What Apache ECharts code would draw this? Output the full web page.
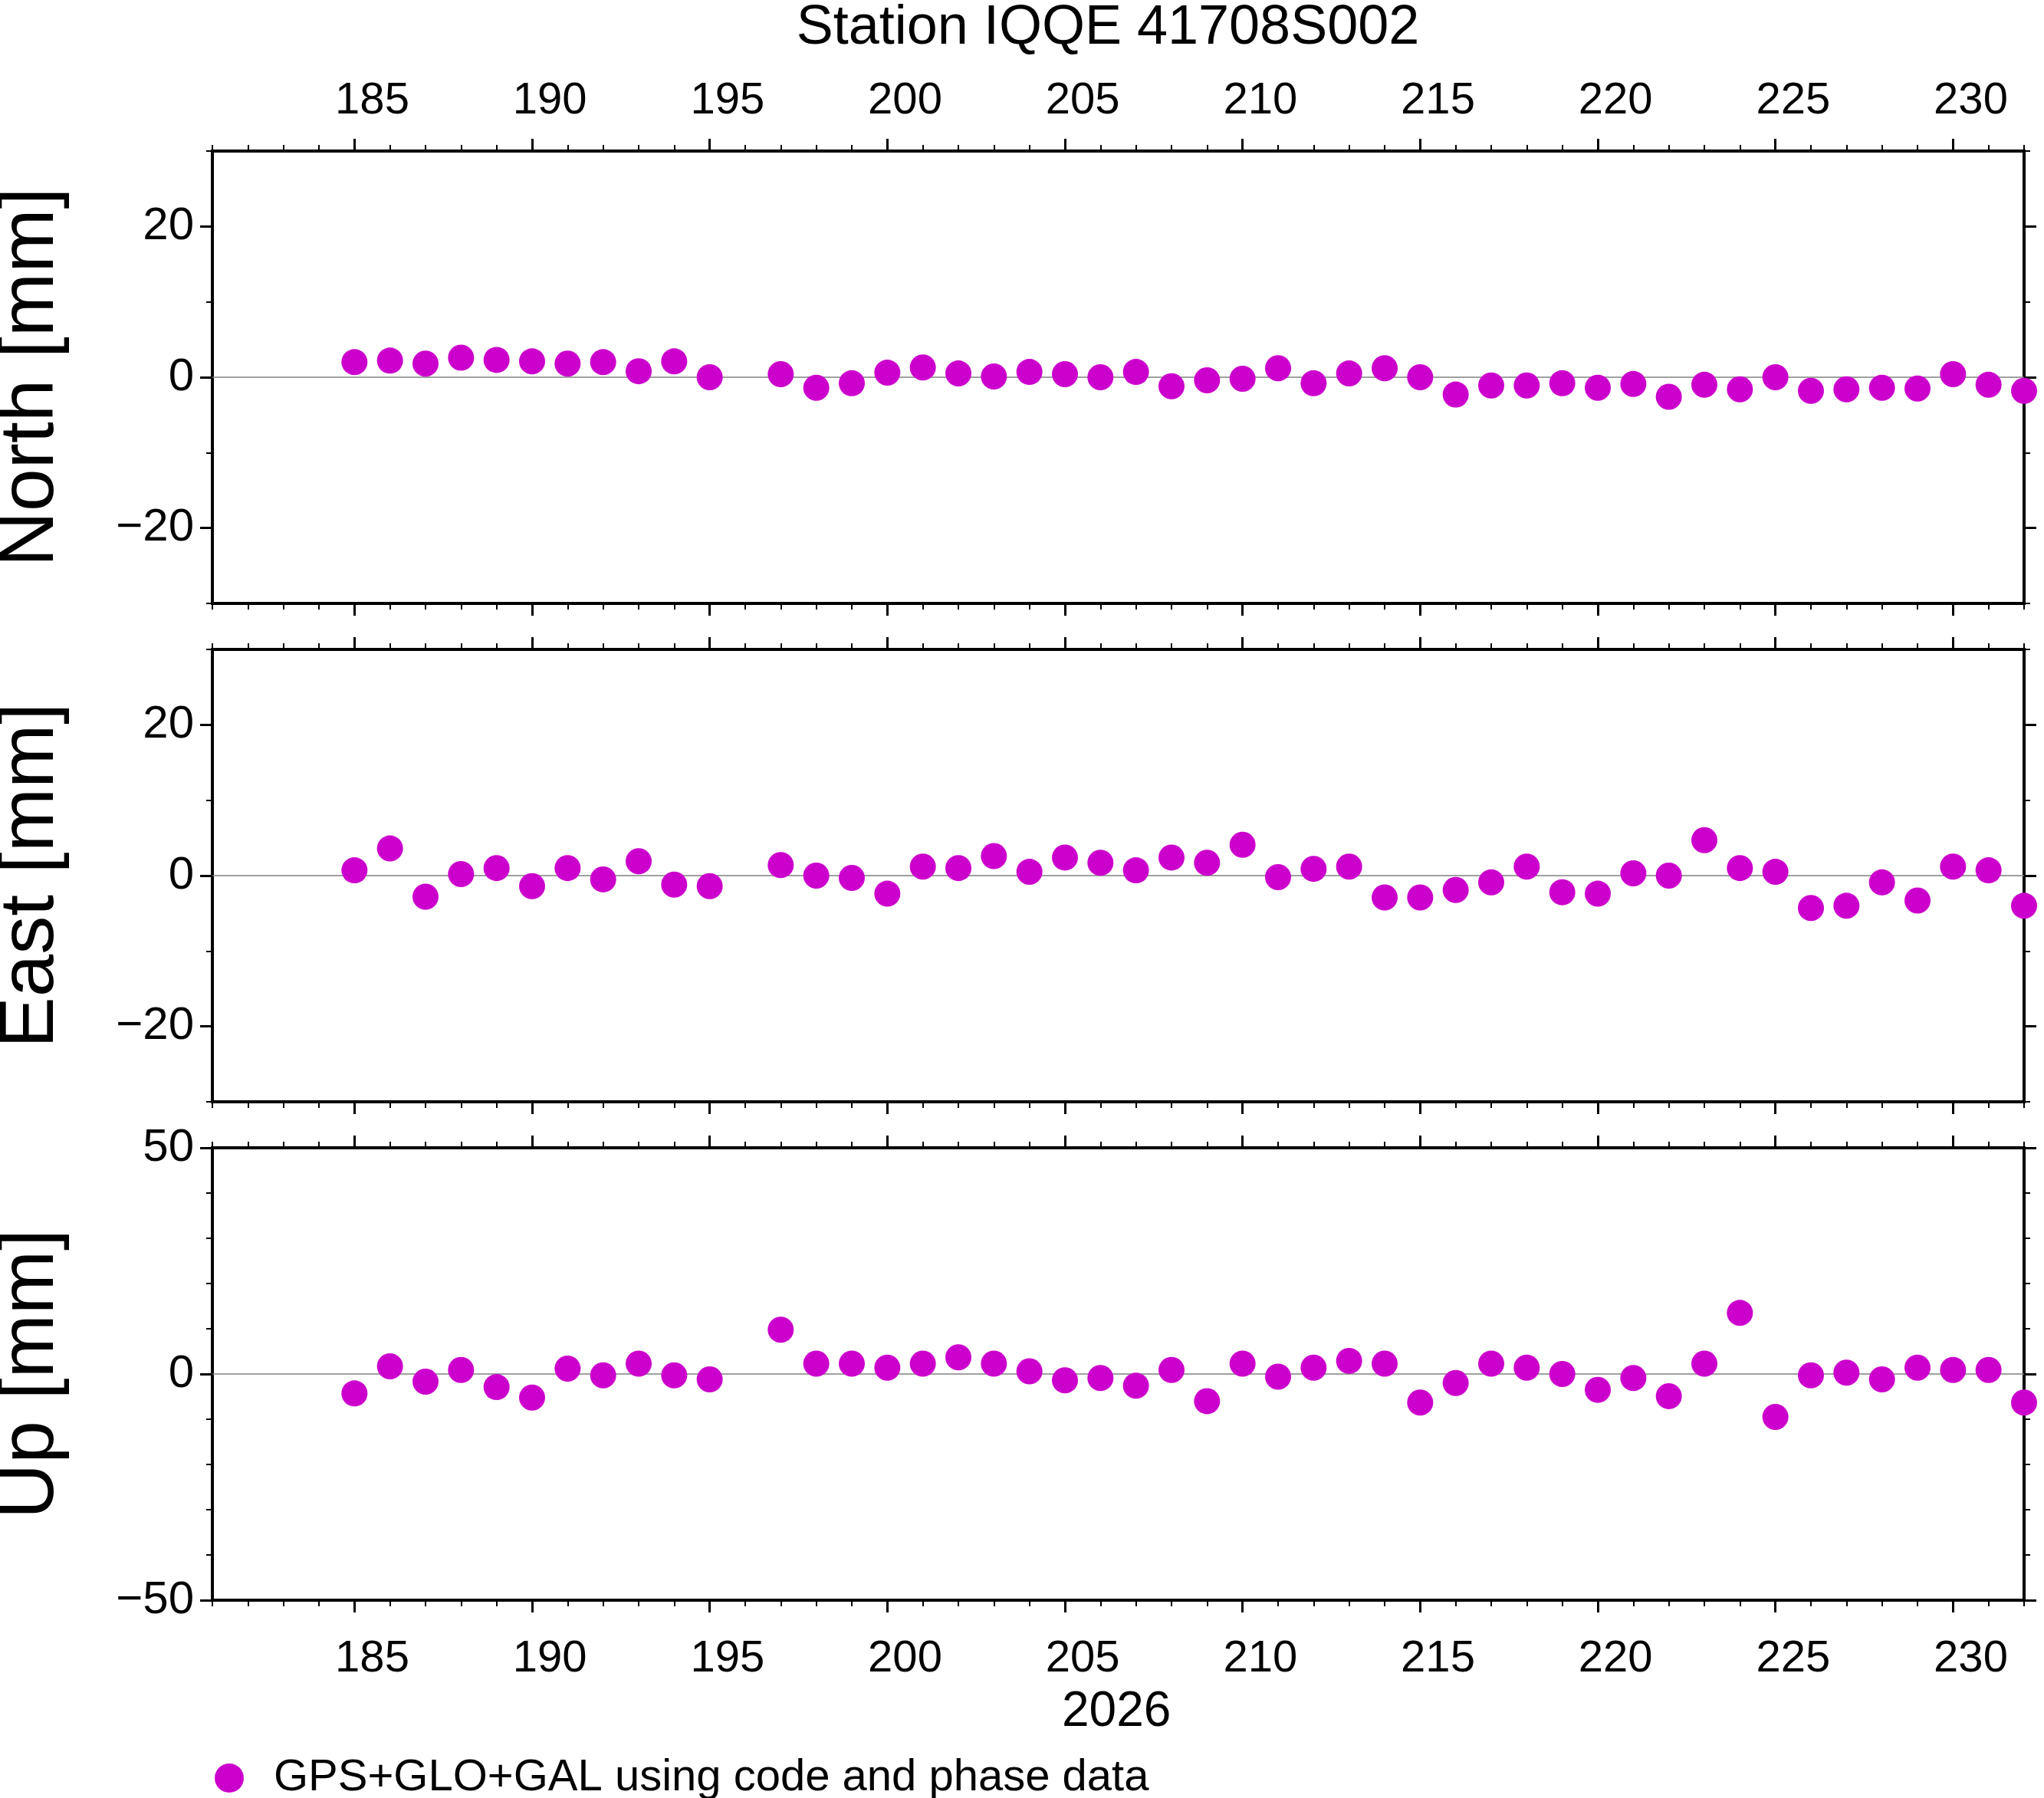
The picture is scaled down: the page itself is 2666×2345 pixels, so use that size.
<!DOCTYPE html>
<html><head><meta charset="utf-8">
<script src="https://cdn.jsdelivr.net/npm/echarts@6/dist/echarts.min.js"></script>
<style>html,body{margin:0;padding:0;background:#fff}#c{width:2666px;height:2345px}</style>
</head><body><div id="c"></div>
<script>
const days = [185,186,187,188,189,190,191,192,193,194,195,197,198,199,200,201,202,203,204,205,206,207,208,209,210,211,212,213,214,215,216,217,218,219,220,221,222,223,224,225,226,227,228,229,230,231,232];
const north = [2,2.2,1.8,2.6,2.3,2.1,1.8,2.0,0.8,2.1,0,0.4,-1.4,-0.8,0.6,1.3,0.5,0.1,0.7,0.4,0,0.7,-1.2,-0.4,-0.2,1.2,-0.8,0.5,1.2,0,-2.3,-1.1,-1.1,-0.8,-1.4,-0.9,-2.6,-1,-1.6,0,-1.8,-1.6,-1.4,-1.5,0.4,-1.0,-1.8];
const east = [0.7,3.6,-2.8,0.2,1,-1.4,1,-0.5,1.9,-1.2,-1.4,1.4,0,-0.3,-2.4,1.2,1,2.6,0.5,2.4,1.7,0.7,2.4,1.7,4.1,-0.2,0.9,1.2,-2.9,-2.9,-1.9,-0.9,1.2,-2.2,-2.4,0.3,0,4.7,1,0.5,-4.3,-4,-0.9,-3.3,1.2,0.7,-4];
const up = [-4.3,1.7,-1.7,0.9,-2.9,-5.2,1.2,-0.3,2.3,-0.3,-1.2,9.8,2.3,2.3,1.4,2.3,3.7,2.3,0.6,-1.4,-0.9,-2.6,0.9,-6,2.3,-0.6,1.4,2.9,2.3,-6.3,-2,2.3,1.4,0,-3.5,-0.9,-4.9,2.3,13.5,-9.5,-0.3,0.3,-1.2,1.4,0.9,0.9,-6.3];
const xMajor = [185,190,195,200,205,210,215,220,225,230];
const xLabelPos = xMajor.map(v=>v+0.5);
const xMinor = []; for (let d=181; d<=232; d++) if (d%5) xMinor.push(d);
const panels = [
  {name:'North [mm]', data:north, min:-30, max:30, major:[-20,0,20], minor:[-30,-10,10,30]},
  {name:'East [mm]', data:east, min:-30, max:30, major:[-20,0,20], minor:[-30,-10,10,30]},
  {name:'Up [mm]', data:up, min:-50, max:50, major:[-50,0,50], minor:[-40,-30,-20,-10,10,20,30,40]}
];
const FONT = 'Liberation Sans';
const tops = [197, 847, 1497];
const grid=[], xAxis=[], yAxis=[], series=[];
const fmt = v => String(Math.round(v*10)/10).replace('-', '\u2212');
panels.forEach((p,i)=>{
  grid.push({left:277, right:26, top:tops[i], height:590, show:true, borderColor:'#000', borderWidth:4, backgroundColor:'transparent', outerBoundsMode:'none', containLabel:false});
  const base = {type:'value', gridIndex:i, min:181, max:232, axisLine:{show:false, onZero:false}, splitLine:{show:false}};
  const xi = xAxis.length;
  ['bottom','top'].forEach(pos=>{
    const showLab = (pos==='bottom' && i===2) || (pos==='top' && i===0);
    xAxis.push(Object.assign({}, base, {position:pos,
      axisTick:{show:true, length:16, lineStyle:{color:'#000', width:3}, customValues:xMajor},
      axisLabel:{show:showLab, customValues:xLabelPos, formatter:v=>String(Math.floor(v)), fontFamily:FONT, fontSize:58, color:'#000', margin:pos==='top'?36:48}}));
    xAxis.push(Object.assign({}, base, {position:pos,
      axisTick:{show:true, length:8, lineStyle:{color:'#000', width:2}, customValues:xMinor},
      axisLabel:{show:false}}));
  });
  const ybase = {type:'value', gridIndex:i, min:p.min, max:p.max, axisLine:{show:false, onZero:false}, splitLine:{show:false}};
  const yi = yAxis.length;
  ['left','right'].forEach(pos=>{
    yAxis.push(Object.assign({}, ybase, {position:pos,
      name: pos==='left'?p.name:'', nameLocation:'middle', nameGap:186,
      nameTextStyle:{fontFamily:FONT, fontSize:100, color:'#000'},
      axisTick:{show:true, length:16, lineStyle:{color:'#000', width:3}, customValues:p.major},
      axisLabel:{show:pos==='left', customValues:p.major, formatter:fmt, fontFamily:FONT, fontSize:60, color:'#000', margin:24}}));
    yAxis.push(Object.assign({}, ybase, {position:pos,
      axisTick:{show:true, length:8, lineStyle:{color:'#000', width:2}, customValues:p.minor},
      axisLabel:{show:false}}));
  });
  series.push({type:'scatter', name:'GPS+GLO+GAL using code and phase data', xAxisIndex:xi, yAxisIndex:yi,
    symbolSize:34, itemStyle:{color:'#cc00cc', opacity:1},
    data: days.map((d,k)=>[d,p.data[k]]),
    markLine:{silent:true, symbol:'none', label:{show:false}, lineStyle:{color:'#808080', width:1.5, type:'solid'}, data:[{yAxis:0}], z:1},
    z:5});
});
const chart = echarts.init(document.getElementById('c'));
chart.setOption({
  animation:false,
  backgroundColor:'#fff',
  title:{text:'Station IQQE 41708S002', left:1440, textAlign:'center', top:-4, textStyle:{fontFamily:FONT, fontSize:72, fontWeight:'normal', color:'#000'}},
  legend:{left:275, top:2285, icon:'circle', itemWidth:38, itemHeight:38, itemGap:20,
    textStyle:{fontFamily:FONT, fontSize:58, color:'#000', padding:[0,0,0,34]}, data:['GPS+GLO+GAL using code and phase data']},
  graphic:[{type:'text', left:1385, top:2201, style:{text:'2026', fontFamily:FONT, fontSize:64, fill:'#000'}}],
  grid, xAxis, yAxis, series
});
</script></body></html>
